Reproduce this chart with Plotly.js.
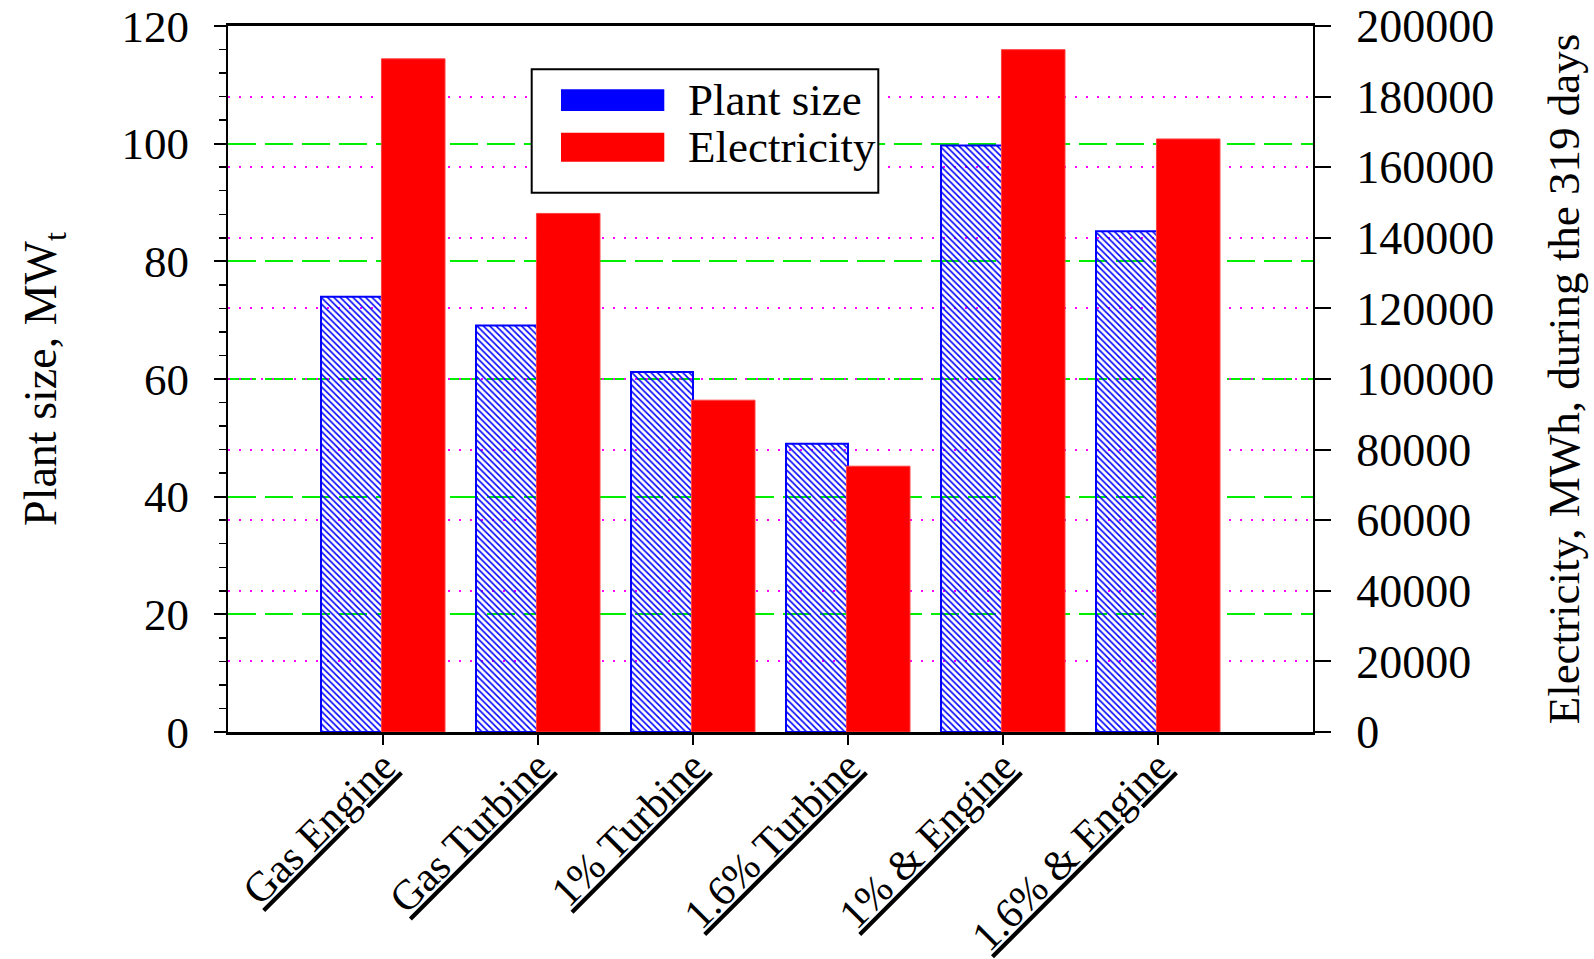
<!DOCTYPE html>
<html>
<head>
<meta charset="utf-8">
<script src="https://cdn.plot.ly/plotly-3.0.1.min.js"></script>
<style>html,body{margin:0;padding:0;background:#fff;}#chart{width:1594px;height:959px;}</style>
</head>
<body>
<div id="chart"></div>
<script>
// ---- data ----
const categories = ['Gas Engine', 'Gas Turbine', '1% Turbine', '1.6% Turbine', '1% & Engine', '1.6% & Engine'];
const plantSize = [74.0, 69.1, 61.2, 49.0, 99.7, 85.1];          // MWt (left axis)
const electricity = [190700, 146900, 94000, 75300, 193300, 168000]; // MWh (right axis)
const leftTicks = [0, 20, 40, 60, 80, 100, 120];
const rightTicks = [0, 20000, 40000, 60000, 80000, 100000, 120000, 140000, 160000, 180000, 200000];
const seriesNames = ['Plant size', 'Electricity'];

// ---- layout geometry ----
const M = {l: 228, r: 281, t: 26, b: 227};
const W = 1594 - M.l - M.r, H = 959 - M.t - M.b;
const px = x => (x - M.l) / W;
const py = y => (959 - M.b - y) / H;
const FONT = 'Liberation Serif';

const traces = [
  {
    type: 'bar', name: seriesNames[0], x: categories, y: plantSize,
    xaxis: 'x', yaxis: 'y', width: 0.4, offset: -0.4,
    marker: {
      color: 'rgba(0,0,0,0)',
      line: {color: '#0000ff', width: 2},
      pattern: {shape: '\\', fgcolor: '#0000ff', bgcolor: 'rgba(0,0,0,0)', size: 4.5, solidity: 0.35, fillmode: 'replace'}
    },
    showlegend: false, hoverinfo: 'x+y'
  },
  {
    type: 'bar', name: seriesNames[1], x: categories, y: electricity,
    xaxis: 'x', yaxis: 'y2', width: 0.41, offset: -0.01,
    marker: {color: '#ff0000', line: {color: '#ff4040', width: 1}},
    showlegend: false, hoverinfo: 'x+y'
  }
];

const legendShapes = [
  {type: 'rect', xref: 'paper', yref: 'paper', x0: px(531.7), x1: px(878.3), y0: py(192.7), y1: py(69.3),
   line: {color: '#000', width: 2}, fillcolor: '#fff', layer: 'above'},
  {type: 'rect', xref: 'paper', yref: 'paper', x0: px(561), x1: px(664.3), y0: py(111), y1: py(89.3),
   line: {width: 0}, fillcolor: '#0000ff', layer: 'above'},
  {type: 'rect', xref: 'paper', yref: 'paper', x0: px(561), x1: px(664.3), y0: py(161.7), y1: py(132.7),
   line: {width: 0}, fillcolor: '#ff0000', layer: 'above'}
];

const layout = {
  width: 1594, height: 959,
  margin: M,
  paper_bgcolor: '#fff', plot_bgcolor: '#fff',
  font: {family: FONT, color: '#000', size: 44},
  showlegend: false,
  barmode: 'overlay',
  xaxis: {
    type: 'category', range: [-1, 6],
    showline: true, linecolor: '#000', linewidth: 3, mirror: true,
    ticks: 'outside', ticklen: 10, tickwidth: 2, tickcolor: '#000',
    tickangle: -45, tickfont: {family: FONT, size: 42, color: '#000', lineposition: 'under'},
    ticklabelstandoff: -20,
    showgrid: false, zeroline: false
  },
  yaxis: {
    range: [0, 120], tickvals: leftTicks,
    showline: true, linecolor: '#000', linewidth: 2,
    ticks: 'outside', ticklen: 12, tickwidth: 2, tickcolor: '#000',
    minor: {dtick: 4, ticks: 'outside', ticklen: 7, tickwidth: 1.5, tickcolor: '#000', showgrid: false},
    tickfont: {family: FONT, size: 45, color: '#000'},
    ticklabelstandoff: 16,
    showgrid: true, gridcolor: '#00ee00', gridwidth: 2, griddash: '28px,9px',
    zeroline: false,
    title: {text: 'Plant size, MW<sub>t</sub>', font: {family: FONT, size: 46, color: '#000'}, standoff: 50}
  },
  yaxis2: {
    range: [0, 200000], tickvals: rightTicks, tickformat: 'd', overlaying: 'y', side: 'right',
    showline: true, linecolor: '#000', linewidth: 2,
    ticks: 'outside', ticklen: 16, tickwidth: 2, tickcolor: '#000',
    tickfont: {family: FONT, size: 46, color: '#000'},
    ticklabelstandoff: 16,
    showgrid: true, gridcolor: '#ff00ff', gridwidth: 2, griddash: '2px,9px',
    zeroline: false,
    title: {text: 'Electricity, MWh, during the 319 days', font: {family: FONT, size: 45, color: '#000'}, standoff: 54}
  },
  shapes: legendShapes,
  annotations: [
    {xref: 'paper', yref: 'paper', x: px(686), y: py(100), xanchor: 'left', yanchor: 'middle', showarrow: false,
     text: seriesNames[0], font: {family: FONT, size: 45, color: '#000'}},
    {xref: 'paper', yref: 'paper', x: px(686), y: py(147), xanchor: 'left', yanchor: 'middle', showarrow: false,
     text: seriesNames[1], font: {family: FONT, size: 45, color: '#000'}}
  ]
};

Plotly.newPlot('chart', traces, layout, {displayModeBar: false, staticPlot: true});
</script>
</body>
</html>
